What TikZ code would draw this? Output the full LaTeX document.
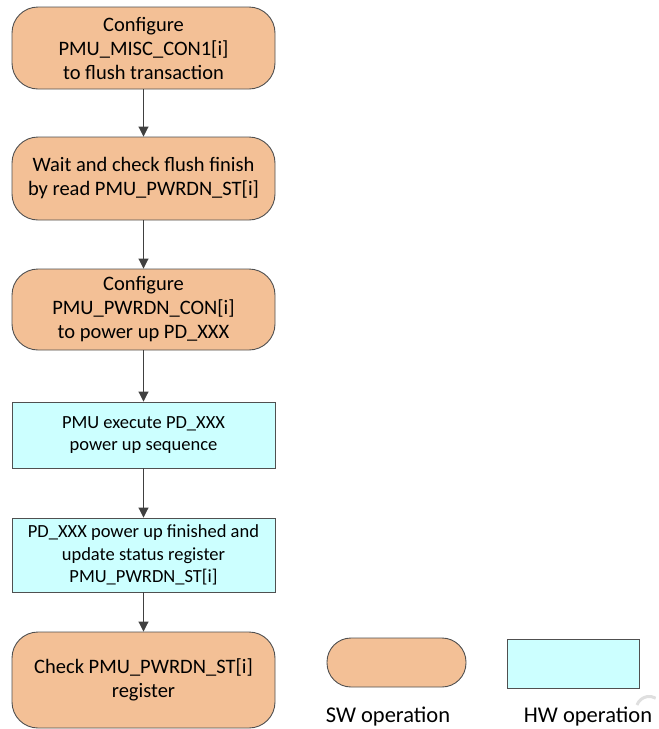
\documentclass[tikz,border=0pt]{standalone}
\usepackage{fontspec}
\setmainfont{Carlito}
\usetikzlibrary{arrows.meta}
\definecolor{swfill}{RGB}{243,192,150}
\definecolor{hwfill}{RGB}{204,255,255}
\definecolor{edge}{RGB}{80,80,80}
\definecolor{arr}{RGB}{64,64,64}
\tikzset{
  swbox/.style={draw=edge, line width=0.9pt, fill=swfill, rounded corners=26pt,
    minimum width=263pt, align=center, inner sep=0pt,
    font=\fontsize{20.5}{24}\selectfont},
  hwbox/.style={draw=edge, line width=0.9pt, fill=hwfill,
    minimum width=263pt, align=center, inner sep=0pt,
    font=\fontsize{18.5}{22.5}\selectfont},
  flow/.style={draw=arr, line width=0.9pt, -{Triangle[length=10pt,width=10pt]}},
  legendtext/.style={font=\fontsize{22.5}{26}\selectfont, inner sep=0pt}
}
\begin{document}
\begin{tikzpicture}[x=1pt,y=-1pt]
\useasboundingbox (0,0) rectangle (659,729);
\node[swbox, minimum height=82pt] (b1) at (143.5,48) {Configure\\PMU\_MISC\_CON1[i]\\to flush transaction};
\node[swbox, minimum height=83pt] (b2) at (143.5,178.5) {Wait and check flush finish\\by read PMU\_PWRDN\_ST[i]};
\node[swbox, minimum height=81pt] (b3) at (143.5,309.5) {Configure\\PMU\_PWRDN\_CON[i]\\ to power up PD\_XXX};
\node[hwbox, minimum height=66pt] (b4) at (143.5,435) {PMU execute PD\_XXX\\power up sequence};
\node[hwbox, minimum height=74pt] (b5) at (143.5,555) {PD\_XXX power up finished and\\update status register\\PMU\_PWRDN\_ST[i]};
\node[swbox, minimum height=96pt] (b6) at (143.5,680) {Check PMU\_PWRDN\_ST[i]\\register};
\draw[flow] (b1) -- (b2);
\draw[flow] (b2) -- (b3);
\draw[flow] (b3) -- (b4);
\draw[flow] (b4) -- (b5);
\draw[flow] (b5) -- (b6);
% legend
\node[swbox, minimum width=139pt, minimum height=49pt, rounded corners=24pt] (swkey) at (396.5,662.5) {};
\node[hwbox, minimum width=132pt, minimum height=49pt] (hwkey) at (573,663.5) {};
\node[legendtext] (swlab) at (388,717) {SW operation};
\node[legendtext] (hwlab) at (588,717) {HW operation};
% faint mark in the corner
\draw[gray!25, line width=3pt] (637,705) arc[start angle=160, end angle=60, radius=13pt];
\end{tikzpicture}
\end{document}
